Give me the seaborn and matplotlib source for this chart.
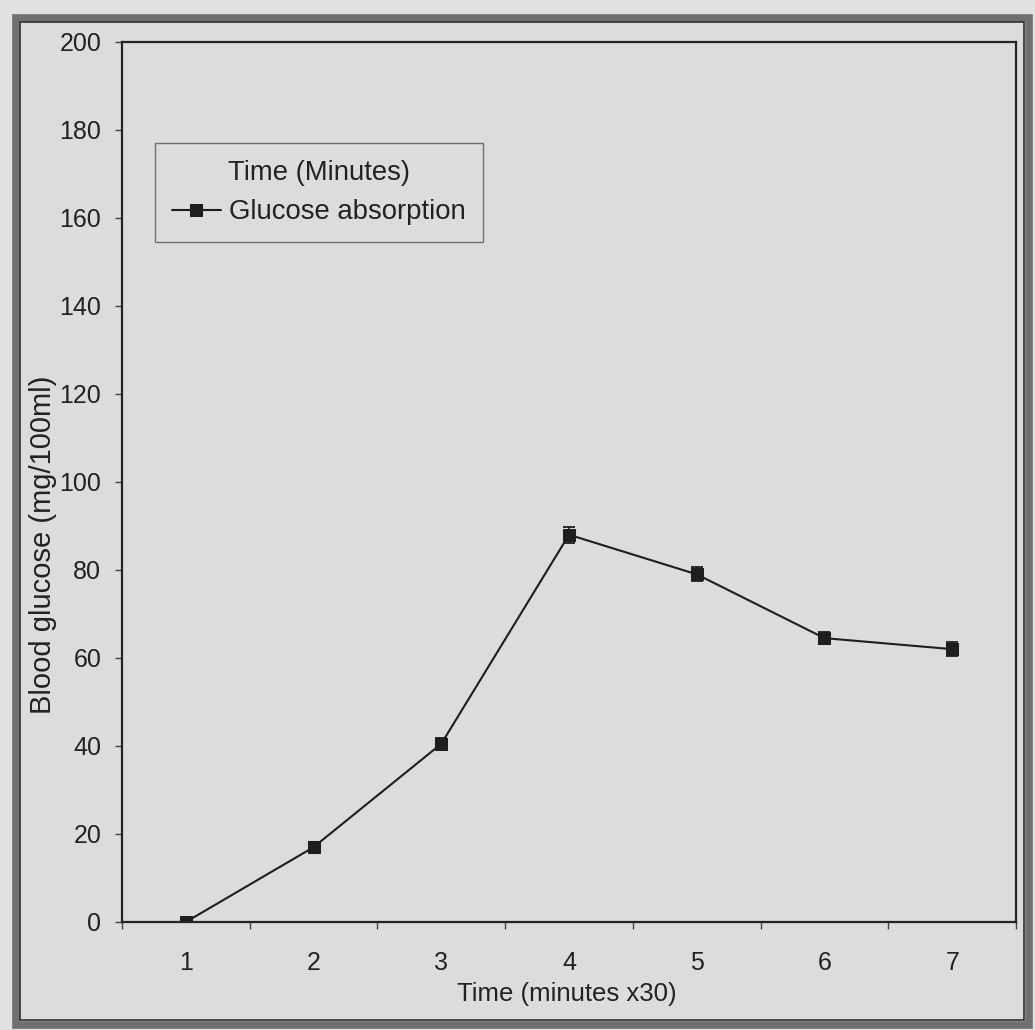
import matplotlib
matplotlib.use("Agg")
import matplotlib.pyplot as plt
from matplotlib.patches import Rectangle
from matplotlib.ticker import FixedLocator
import seaborn as sns
import pandas as pd

# Blood glucose readings over time (intervals of 30 minutes)
time_points = [1, 2, 3, 4, 5, 6, 7]
glucose = [0, 17, 40.5, 88, 79, 64.5, 62]
glucose_err = [0.8, 1.2, 1.3, 1.8, 1.6, 1.4, 1.6]

series_label = "Glucose absorption"
legend_title = "Time (Minutes)"
x_label = "Time (minutes x30)"
y_label = "Blood glucose (mg/100ml)"

df = pd.DataFrame({"time": time_points, "glucose": glucose})

sns.set_theme(style="white")
plt.rcParams["font.family"] = ["Liberation Sans", "DejaVu Sans"]

bg = "#dcdcdc"
ink = "#1e1e1e"
fig = plt.figure(figsize=(10.35, 10.30), dpi=100, facecolor="#e2e2e2")

# Paper area and double border (thick grey band with a dark inner rule), behind the axes
fig.patches.append(Rectangle((0.015, 0.005), 0.979, 0.978, transform=fig.transFigure,
                             facecolor=bg, edgecolor="none", zorder=-5))
fig.patches.append(Rectangle((0.015, 0.00485), 0.9792, 0.978, transform=fig.transFigure,
                             fill=False, edgecolor="#707070", linewidth=5.5, zorder=-4))
fig.patches.append(Rectangle((0.0193, 0.0097), 0.9701, 0.9689, transform=fig.transFigure,
                             fill=False, edgecolor="#2e2e2e", linewidth=1.2, zorder=-4))

ax = fig.add_axes([0.1179, 0.1049, 0.8638, 0.8544])
ax.set_zorder(1)
ax.set_facecolor(bg)

sns.lineplot(data=df, x="time", y="glucose", ax=ax, color=ink,
             linewidth=1.5, marker="s", markersize=8, markeredgecolor=ink,
             label=series_label)
ax.errorbar(time_points, glucose, yerr=glucose_err, fmt="none",
            ecolor=ink, elinewidth=1.2, capsize=4.5, capthick=1.3)

ax.set_xlim(0.5, 7.5)
ax.set_ylim(0, 200)
ax.set_yticks(range(0, 201, 20))
ax.set_xticks(time_points)
ax.xaxis.set_minor_locator(FixedLocator([0.5 + i for i in range(8)]))
ax.tick_params(axis="x", which="major", length=0, pad=21, labelsize=18, labelcolor="#222222")
ax.tick_params(axis="x", which="minor", length=5, width=1, direction="out",
               color="#444444", bottom=True)
ax.tick_params(axis="y", length=5, width=1, direction="out", left=True, labelsize=18,
               color="#444444", labelcolor="#222222", pad=10)

ax.set_xlabel(x_label, fontsize=18.5, color="#222222")
ax.xaxis.set_label_coords(0.497, -0.068)
ax.set_ylabel(y_label, fontsize=21, color="#222222")
ax.yaxis.set_label_coords(-0.0727, 0.428)

for s in ax.spines.values():
    s.set_visible(True)
    s.set_color("#252525")
    s.set_linewidth(1.6)

leg = ax.legend(title=legend_title, loc="upper left", bbox_to_anchor=(0.0369, 0.885),
                fontsize=19.8, title_fontsize=19.8, frameon=True, fancybox=False,
                handlelength=1.8, handletextpad=0.3, borderpad=0.6, labelspacing=0.5,
                borderaxespad=0)
leg.get_frame().set_edgecolor("#555555")
leg.get_frame().set_facecolor(bg)
leg.get_frame().set_linewidth(1.0)
leg.get_title().set_color("#222222")
for t in leg.get_texts():
    t.set_color("#222222")

fig.savefig("out.png", dpi=100, facecolor=fig.get_facecolor())
